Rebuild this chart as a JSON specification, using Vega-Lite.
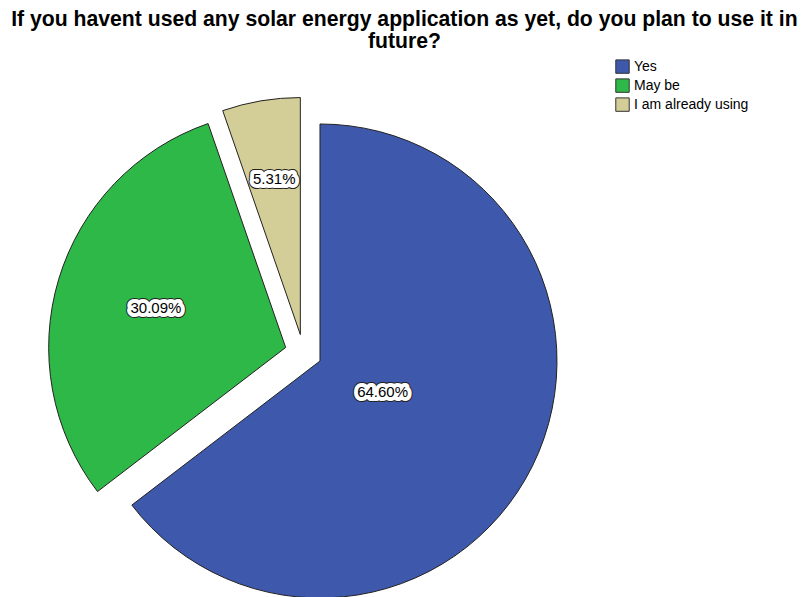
{
  "$schema": "https://vega.github.io/schema/vega-lite/v6.json",
  "width": 606.8,
  "height": 488.4,
  "autosize": {"type": "none"},
  "padding": {"left": 0, "top": 108.6, "right": 194.2, "bottom": 0},
  "background": "white",
  "title": {
    "text": ["If you havent used any solar energy application as yet, do you plan to use it in", "future?"],
    "font": "Liberation Sans",
    "fontSize": 21.2,
    "fontWeight": "bold",
    "color": "#000000",
    "anchor": "middle",
    "frame": "group",
    "dx": 101,
    "lineHeight": 22,
    "offset": 7
  },
  "data": {
    "values": [
      {"answer": "Yes", "share": 0.646},
      {"answer": "May be", "share": 0.3009},
      {"answer": "I am already using", "share": 0.0531}
    ]
  },
  "encoding": {
    "theta": {"field": "share", "type": "quantitative", "stack": true, "scale": {"domain": [0, 1]}},
    "order": {"field": "share", "sort": "descending"}
  },
  "layer": [
    {
      "encoding": {"opacity": {"condition": {"test": "datum.answer === 'Yes'", "value": 1}, "value": 0}},
      "layer": [
        {
          "mark": {"type": "arc", "outerRadius": 237, "xOffset": 16.59, "yOffset": 8.19, "stroke": "#222222", "strokeWidth": 1},
          "encoding": {
            "color": {
              "field": "answer", "type": "nominal",
              "scale": {"domain": ["Yes", "May be", "I am already using"], "range": ["#3E58AC", "#2EB848", "#D3CE97"]},
              "legend": {"title": null, "orient": "none", "legendX": 615, "legendY": -49.5, "symbolType": "square", "symbolSize": 180, "symbolStrokeColor": "#333333", "symbolStrokeWidth": 1, "symbolOpacity": 1, "labelFont": "Liberation Sans", "labelFontSize": 14, "labelColor": "#000000", "labelOffset": 4, "rowPadding": 0}
            }
          }
        },
        {
          "mark": {"type": "text", "radius": 69.8, "xOffset": 16.59, "yOffset": 8.19, "font": "Liberation Sans", "fontSize": 15, "fill": "#ffffff", "stroke": "#222222", "strokeWidth": 10, "strokeJoin": "round"},
          "encoding": {"text": {"field": "share", "type": "quantitative", "format": ".2%"}}
        },
        {
          "mark": {"type": "text", "radius": 69.8, "xOffset": 16.59, "yOffset": 8.19, "font": "Liberation Sans", "fontSize": 15, "fill": "#ffffff", "stroke": "#ffffff", "strokeWidth": 8, "strokeJoin": "round"},
          "encoding": {"text": {"field": "share", "type": "quantitative", "format": ".2%"}}
        },
        {
          "mark": {"type": "text", "radius": 69.8, "xOffset": 16.59, "yOffset": 8.19, "font": "Liberation Sans", "fontSize": 15, "fill": "#000000"},
          "encoding": {"text": {"field": "share", "type": "quantitative", "format": ".2%"}}
        }
      ]
    },
    {
      "encoding": {"opacity": {"condition": {"test": "datum.answer === 'May be'", "value": 1}, "value": 0}},
      "layer": [
        {
          "mark": {"type": "arc", "outerRadius": 237, "xOffset": -17.72, "yOffset": -5.32, "stroke": "#222222", "strokeWidth": 1},
          "encoding": {
            "color": {
              "field": "answer", "type": "nominal",
              "scale": {"domain": ["Yes", "May be", "I am already using"], "range": ["#3E58AC", "#2EB848", "#D3CE97"]},
              "legend": {"title": null, "orient": "none", "legendX": 615, "legendY": -49.5, "symbolType": "square", "symbolSize": 180, "symbolStrokeColor": "#333333", "symbolStrokeWidth": 1, "symbolOpacity": 1, "labelFont": "Liberation Sans", "labelFontSize": 14, "labelColor": "#000000", "labelOffset": 4, "rowPadding": 0}
            }
          }
        },
        {
          "mark": {"type": "text", "radius": 135.5, "xOffset": -17.72, "yOffset": -5.32, "font": "Liberation Sans", "fontSize": 15, "fill": "#ffffff", "stroke": "#222222", "strokeWidth": 10, "strokeJoin": "round"},
          "encoding": {"text": {"field": "share", "type": "quantitative", "format": ".2%"}}
        },
        {
          "mark": {"type": "text", "radius": 135.5, "xOffset": -17.72, "yOffset": -5.32, "font": "Liberation Sans", "fontSize": 15, "fill": "#ffffff", "stroke": "#ffffff", "strokeWidth": 8, "strokeJoin": "round"},
          "encoding": {"text": {"field": "share", "type": "quantitative", "format": ".2%"}}
        },
        {
          "mark": {"type": "text", "radius": 135.5, "xOffset": -17.72, "yOffset": -5.32, "font": "Liberation Sans", "fontSize": 15, "fill": "#000000"},
          "encoding": {"text": {"field": "share", "type": "quantitative", "format": ".2%"}}
        }
      ]
    },
    {
      "encoding": {"opacity": {"condition": {"test": "datum.answer === 'I am already using'", "value": 1}, "value": 0}},
      "layer": [
        {
          "mark": {"type": "arc", "outerRadius": 237, "xOffset": -3.07, "yOffset": -18.24, "stroke": "#222222", "strokeWidth": 1},
          "encoding": {
            "color": {
              "field": "answer", "type": "nominal",
              "scale": {"domain": ["Yes", "May be", "I am already using"], "range": ["#3E58AC", "#2EB848", "#D3CE97"]},
              "legend": {"title": null, "orient": "none", "legendX": 615, "legendY": -49.5, "symbolType": "square", "symbolSize": 180, "symbolStrokeColor": "#333333", "symbolStrokeWidth": 1, "symbolOpacity": 1, "labelFont": "Liberation Sans", "labelFontSize": 14, "labelColor": "#000000", "labelOffset": 4, "rowPadding": 0}
            }
          }
        },
        {
          "mark": {"type": "text", "radius": 157.3, "xOffset": -3.07, "yOffset": -18.24, "font": "Liberation Sans", "fontSize": 15, "fill": "#ffffff", "stroke": "#222222", "strokeWidth": 10, "strokeJoin": "round"},
          "encoding": {"text": {"field": "share", "type": "quantitative", "format": ".2%"}}
        },
        {
          "mark": {"type": "text", "radius": 157.3, "xOffset": -3.07, "yOffset": -18.24, "font": "Liberation Sans", "fontSize": 15, "fill": "#ffffff", "stroke": "#ffffff", "strokeWidth": 8, "strokeJoin": "round"},
          "encoding": {"text": {"field": "share", "type": "quantitative", "format": ".2%"}}
        },
        {
          "mark": {"type": "text", "radius": 157.3, "xOffset": -3.07, "yOffset": -18.24, "font": "Liberation Sans", "fontSize": 15, "fill": "#000000"},
          "encoding": {"text": {"field": "share", "type": "quantitative", "format": ".2%"}}
        }
      ]
    }
  ]
}
